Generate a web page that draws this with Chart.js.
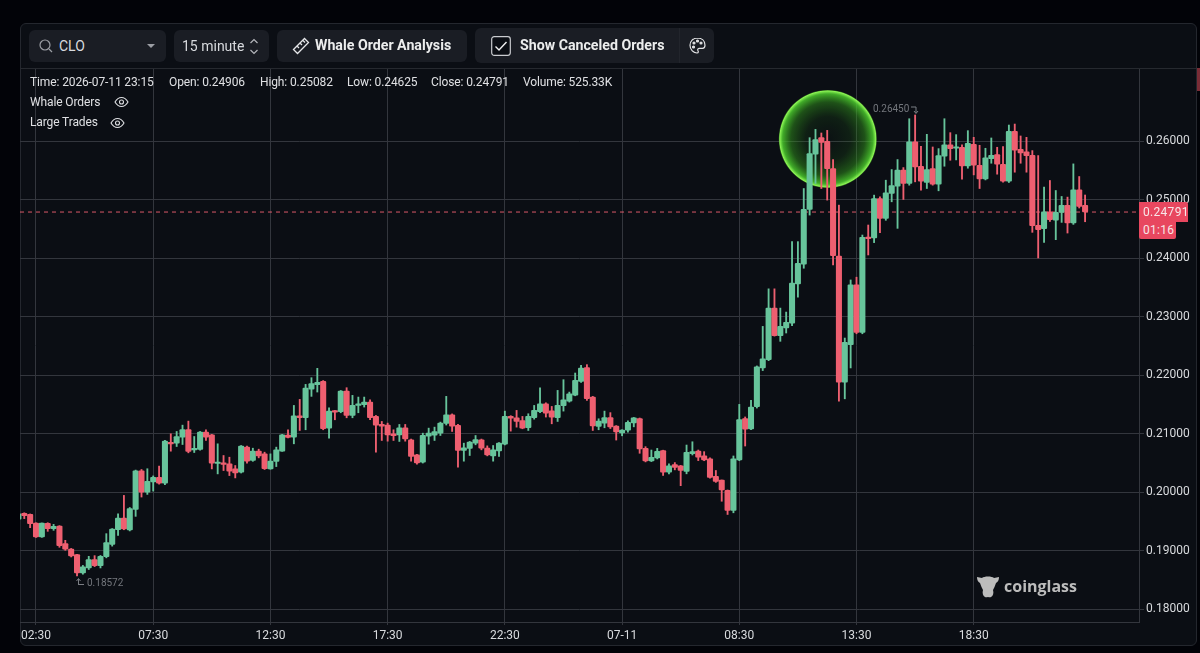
<!DOCTYPE html>
<html>
<head>
<meta charset="utf-8">
<title>CLO 15 minute</title>
<script src="https://cdn.jsdelivr.net/npm/chart.js@4"></script>
<style>
  html, body { margin: 0; padding: 0; width: 1200px; height: 653px; overflow: hidden; background: #020308; font-family: Roboto, sans-serif; }
  .panel { position: absolute; left: 20px; top: 23px; width: 1177px; height: 623px; box-sizing: border-box; background: #0b0e14; border: 1px solid #24272e; border-radius: 6px; }
  .sep { position: absolute; left: 20px; top: 68px; width: 1177px; height: 1px; background: #26292f; }
  canvas { position: absolute; left: 0; top: 0; }
  .box { position: absolute; background: #1a1d24; border-radius: 6px; color: #d8dade; box-sizing: border-box; }
  .txt { position: absolute; white-space: nowrap; }
  .info { position: absolute; white-space: nowrap; font-size: 12px; letter-spacing: -.12px; color: #dfe0e3; line-height: 14px; }
  .strong { font-weight: 700; font-size: 14.2px; color: #eceded; }
  .note { position: absolute; white-space: nowrap; font-size: 10px; color: #73767c; }
  .tag { position: absolute; background: #e8475f; color: #f7e6e8; font-size: 12px; line-height: 18px; letter-spacing: .3px; box-sizing: border-box; padding-left: 4px; }
  svg { position: absolute; }
</style>
</head>
<body>
<div class="panel"></div>
<div class="sep"></div>
<div style="position:absolute;left:1197px;top:68px;width:3px;height:23px;background:#7a2c36"></div>
<canvas id="chart" width="1200" height="653"></canvas>

<div class="box" style="left:29px;top:30px;width:137px;height:32px">
  <svg style="left:9px;top:8px" width="16" height="16" viewBox="0 0 16 16" fill="none" stroke="#9b9ea4" stroke-width="1.2"><circle cx="7" cy="7" r="5"/><path d="M11 11l3 3"/></svg>
  <span class="txt" style="left:30px;top:8px;font-size:14px">CLO</span>
  <svg style="left:118px;top:14px" width="8" height="5" viewBox="0 0 8 5"><path d="M0 0h8L4 4z" fill="#9b9ea4"/></svg>
</div>
<div class="box" style="left:174px;top:30px;width:95px;height:32px">
  <span class="txt" style="left:8px;top:8px;font-size:14px">15 minute</span>
  <svg style="left:75px;top:8px" width="10" height="17" viewBox="0 0 10 17" fill="none" stroke="#b4b6bb" stroke-width="1.2"><path d="M1.5 5L5 1.5 8.5 5M1.5 12L5 15.5 8.5 12"/></svg>
</div>
<div class="box" style="left:277px;top:30px;width:190px;height:32px">
  <svg style="left:15px;top:7px" width="18" height="18" viewBox="0 0 18 18" fill="none" stroke="#e6e7e9" stroke-width="1.3"><path d="M1.5 12.5L12.5 1.5l4 4L5.5 16.5zM5 9l2 2M8 6l2 2M11 3.5l2 2"/></svg>
  <span class="txt strong" style="left:38px;top:7px">Whale Order Analysis</span>
</div>
<div class="box" style="left:475px;top:28px;width:239px;height:35px">
  <svg style="left:16px;top:8px" width="20" height="20" viewBox="0 0 20 20" fill="#0b0e14" stroke="#c9cbcf" stroke-width="1.2"><rect x=".7" y=".7" width="18.6" height="18.6" rx="2.5"/><path d="M4.5 10.5l3.5 3.5 7.5-8" stroke="#f1f1f2" stroke-width="1.4" fill="none"/></svg>
  <span class="txt strong" style="left:45px;top:9px">Show Canceled Orders</span>
  <div style="position:absolute;left:204px;top:0;width:1px;height:35px;background:#22252c"></div>
  <svg style="left:214px;top:9px" width="17" height="17" viewBox="0 0 17 17" fill="none" stroke="#e1e2e4" stroke-width="1.2"><path d="M8.5 1C4 1 1 4.3 1 8.3c0 4 3.2 7.7 7 7.7 1.7 0 1.4-1.700.9-2.500-.5-1 0-2.200 1.600-2.200h3c1.300 0 2.500-.9 2.500-3C16 3.600 12.800 1 8.500 1z"/><circle cx="5" cy="6" r="1" fill="#e1e2e4"/><circle cx="8.500" cy="4" r="1" fill="#e1e2e4"/><circle cx="12" cy="6" r="1" fill="#e1e2e4"/><circle cx="4.500" cy="10" r="1" fill="#e1e2e4"/></svg>
</div>

<span class="info" style="left:30px;top:75px">Time: 2026-07-11 23:15</span>
<span class="info" style="left:169px;top:75px">Open: 0.24906</span>
<span class="info" style="left:260px;top:75px">High: 0.25082</span>
<span class="info" style="left:347px;top:75px">Low: 0.24625</span>
<span class="info" style="left:431px;top:75px">Close: 0.24791</span>
<span class="info" style="left:523px;top:75px">Volume: 525.33K</span>
<span class="info" style="left:30px;top:95px">Whale Orders</span>
<span class="info" style="left:30px;top:115px">Large Trades</span>
<svg style="left:114px;top:96px" width="15" height="12" viewBox="0 0 15 12" fill="none" stroke="#dfe0e3" stroke-width="1.1"><path d="M1 6c2-3.500 4-4.500 6.500-4.500S12 2.500 14 6c-2 3.500-4 4.500-6.500 4.500S3 9.500 1 6z"/><circle cx="7.500" cy="6" r="2"/></svg>
<svg style="left:110px;top:117px" width="15" height="12" viewBox="0 0 15 12" fill="none" stroke="#dfe0e3" stroke-width="1.1"><path d="M1 6c2-3.500 4-4.500 6.500-4.500S12 2.500 14 6c-2 3.500-4 4.500-6.500 4.500S3 9.500 1 6z"/><circle cx="7.500" cy="6" r="2"/></svg>

<span class="note" style="left:873px;top:103px">0.26450</span>
<svg style="left:911px;top:106px" width="8" height="9" viewBox="0 0 8 9" fill="none" stroke="#7b7e84" stroke-width="1"><path d="M0 1h5v6M3 5l2 2.500L7 5"/></svg>
<span class="note" style="left:87px;top:577px">0.18572</span>
<svg style="left:76px;top:577px" width="8" height="9" viewBox="0 0 8 9" fill="none" stroke="#7b7e84" stroke-width="1"><path d="M2.500 8V2M.5 4l2-2.500 2 2.500M2.500 7.500H8"/></svg>

<svg style="left:976px;top:573px" width="24" height="26" viewBox="0 0 24 26" fill="#bcbcbc"><path d="M1 4l5 1c2-2 10-2 12 0l5-1c0 3-1 5-3 6-1 3-2 5-3 7 1 3 0 6-2 7-1 .6-2 0-3 0s-2 .8-3 0c-2-1-3-4-2-7-1-2-2-4-3-7-2-1-3-3-3-6z"/></svg>
<span class="txt" style="left:1004px;top:575px;font-family:'Open Sans',sans-serif;font-weight:700;font-size:16px;color:#bcbcbc">coinglass</span>

<div class="tag" style="left:1139px;top:202px;width:49px;height:20px;border-radius:0 2px 0 0;line-height:20px">0.24791</div>
<div class="tag" style="left:1139px;top:222px;width:37px;height:17px;line-height:17px;border-radius:0 0 2px 2px">01:16</div>

<script>
// x position of candle i is i + firstIndex, 0 is the 02:30 tick, one step is 15 minutes
const firstIndex = -3;

const opens = [
  .1954,.1964,.19623,.19475,.19236,.1947,.1938,.19424,.19122,.1903,
  .18935,.18622,.18707,.18849,.18747,.1890,.19111,.19361,.1956,.19356,
  .19708,.20368,.20004,.20176,.20255,.20158,.20846,.2084,.20943,.21074,
  .20726,.20732,.21029,.20983,.20492,.20503,.20486,.204,.20343,.20772,
  .20543,.20703,.20657,.204,.20526,.20703,.2098,.20943,.21308,.21274,
  .21765,.21839,.21896,.21097,.21388,.21377,.2173,.21314,.21485,.21497,
  .21542,.21297,.2116,.21148,.2100,.20983,.21103,.20897,.2064,.20515,
  .2096,.20977,.21011,.21177,.21325,.21143,.20714,.20749,.2084,.20897,
  .20754,.20623,.20709,.20823,.21297,.21274,.21228,.21103,.21274,.21377,
  .21514,.21394,.21274,.2148,.2156,.21662,.21897,.22131,.21628,.21126,
  .21183,.21277,.2113,.21017,.21062,.21186,.2126,.20751,.20537,.20588,
  .20712,.20345,.20475,.20452,.20356,.20661,.20706,.20622,.20571,.20271,
  .20209,.20034,.19689,.20554,.2126,.21085,.21462,.22126,.22268,.23149,
  .22677,.22808,.22893,.23563,.23898,.24836,.25778,.26062,.26,.25534,
  .2404,.21882,.22524,.23546,.22734,.24364,.24347,.25023,.24682,.25109,
  .25233,.25506,.25279,.25989,.25574,.25296,.25534,.25267,.25744,.25938,
  .25881,.25898,.2558,.25949,.25591,.25358,.25705,.25773,.25608,.25318,
  .2617,.25864,.25818,.25761,.24563,.24506,.24796,.24654,.24784,.24904,
  .24603,.25171,.24906
];

const highs = [
  .1963,.1965,.1963,.1948,.19475,.1948,.19452,.1943,.19179,.1904,
  .1894,.1875,.18906,.18917,.1892,.19293,.1938,.19634,.19947,.1974,
  .2038,.2039,.20403,.2028,.20448,.2089,.2100,.2104,.21148,.21217,
  .20954,.2104,.21069,.2099,.20829,.20629,.206,.20458,.208,.2079,
  .20754,.20737,.20686,.20657,.20772,.2099,.21069,.21485,.21588,.21845,
  .21959,.22119,.2191,.21445,.2140,.2174,.21788,.21657,.21628,.21628,
  .21582,.21314,.21211,.21183,.21069,.2116,.2116,.2091,.2065,.21011,
  .21097,.21114,.2120,.2164,.2134,.2116,.2084,.2087,.20971,.2091,
  .20794,.208,.2085,.21388,.2131,.214,.21297,.21343,.21485,.21788,
  .2153,.21468,.21742,.21925,.21713,.22039,.2217,.22182,.2164,.21257,
  .21388,.21362,.2114,.2107,.2122,.2128,.2127,.2078,.20723,.20751,
  .2072,.20486,.20508,.2046,.20808,.20864,.20723,.20695,.2059,.20373,
  .2021,.2004,.20621,.21503,.21288,.21571,.2216,.22836,.23478,.23478,
  .23149,.23081,.24285,.24285,.25193,.26062,.26204,.26142,.26187,.25688,
  .24909,.22637,.2363,.23677,.24398,.24569,.2508,.2505,.25335,.25517,
  .25688,.25551,.26386,.2645,.25915,.26119,.25903,.25875,.26386,.26148,
  .26114,.2594,.26182,.26068,.25932,.25881,.26057,.25898,.25909,.26278,
  .26295,.26091,.26068,.25841,.25756,.25216,.2533,.25159,.25057,.25046,
  .25614,.25398,.25082
];

const lows = [
  .1953,.1955,.19395,.1923,.1923,.19333,.1935,.1906,.19009,.18895,
  .18572,.186,.1868,.1873,.18707,.1888,.1908,.19265,.1936,.1934,
  .19589,.19919,.19964,.20021,.2014,.2013,.20703,.20783,.20817,.20675,
  .2068,.2072,.20886,.204,.20315,.20372,.20286,.20246,.2033,.20498,
  .2053,.20589,.2039,.20395,.2044,.207,.2093,.20829,.21057,.21069,
  .2164,.21714,.21069,.20926,.2124,.2136,.21274,.21274,.2136,.21457,
  .2124,.20686,.20886,.20874,.20886,.20869,.20874,.20532,.2048,.2050,
  .20823,.20886,.20971,.2115,.2104,.20429,.20532,.20629,.20812,.20726,
  .20623,.20532,.20612,.2081,.21046,.21114,.21086,.21057,.2125,.2136,
  .21286,.21171,.21211,.21388,.21542,.2165,.2188,.21571,.21057,.21069,
  .21103,.2109,.20893,.20966,.2103,.21119,.20667,.2052,.20525,.2057,
  .20288,.20316,.20384,.20113,.20316,.20638,.20542,.2054,.2024,.2017,
  .19847,.19621,.1965,.2054,.20791,.2107,.2144,.22081,.2225,.2267,
  .22581,.22723,.2285,.23336,.2383,.24739,.25279,.25193,.24995,.23887,
  .21558,.21598,.22126,.2271,.2271,.24057,.24268,.24438,.2465,.24966,
  .24512,.25006,.2525,.25307,.25165,.25193,.2525,.25154,.25574,.25676,
  .25682,.25352,.2554,.25426,.25193,.2534,.25625,.25438,.2530,.25296,
  .25472,.25625,.25472,.24444,.24006,.24273,.2463,.24319,.24614,.24432,
  .2458,.2486,.24625
];

const closes = [
  .1963,.1960,.19464,.19236,.19475,.19378,.1942,.19088,.19026,.18912,
  .18622,.18724,.18849,.18747,.18906,.19139,.19373,.1956,.19373,.1972,
  .20368,.20004,.20186,.20255,.20158,.20875,.20829,.20954,.21074,.20697,
  .20749,.21029,.20943,.20498,.20503,.20475,.2036,.20332,.20789,.20532,
  .20703,.20623,.20406,.20532,.20726,.20983,.2094,.21308,.21274,.21782,
  .21857,.21879,.21086,.21388,.21371,.2173,.21314,.21485,.21514,.21542,
  .21274,.21148,.21131,.20983,.20966,.21103,.20914,.20612,.20503,.20972,
  .21011,.2104,.21183,.21325,.21131,.20714,.2076,.20857,.20903,.20754,
  .2064,.20726,.2084,.21297,.21268,.21211,.21097,.21297,.214,.21514,
  .21354,.21286,.21485,.21582,.21685,.21914,.22125,.216,.21136,.21217,
  .21277,.21119,.21034,.21062,.21198,.21271,.2074,.20537,.20599,.207,
  .20345,.20452,.20424,.20373,.20684,.20695,.20599,.20554,.20254,.20186,
  .20039,.19689,.20571,.21243,.21079,.21458,.22143,.2228,.23149,.22677,
  .22836,.22904,.23575,.23915,.24836,.2579,.26028,.25983,.25534,.24046,
  .21882,.22564,.23546,.22734,.24358,.24336,.25023,.24682,.2512,.25245,
  .25506,.25279,.25989,.25563,.25318,.25517,.25267,.25756,.25938,.25875,
  .25898,.2558,.25966,.25591,.25358,.25716,.25761,.25608,.25318,.2617,
  .25847,.25801,.25756,.24557,.24489,.24796,.2466,.24784,.24904,.24603,
  .25171,.24887,.24791
];

const priceTicks = [0.18, 0.19, 0.20, 0.21, 0.22, 0.23, 0.24, 0.25, 0.26];
const timeTicks = [0, 20, 40, 60, 80, 100, 120, 140, 160];
const timeLabels = ['02:30', '07:30', '12:30', '17:30', '22:30', '07-11', '08:30', '13:30', '18:30'];
const lastPrice = 0.24791;

const up = '#67c49b';
const down = '#ee5f70';
const xMin = -2.73;
const xMax = 188.2;

const colors = closes.map((c, i) => c >= opens[i] ? up : down);
const wicks = highs.map((h, i) => ({ x: i + firstIndex, y: [lows[i], h] }));
const bodies = opens.map((o, i) => ({ x: i + firstIndex, y: [o, closes[i]] }));

// green ring around the top of the spike
const ringPlugin = {
  id: 'ring',
  beforeDatasetsDraw(chart) {
    const c = chart.ctx;
    const x = chart.scales.x.getPixelForValue(135.1);
    const y = chart.scales.y.getPixelForValue(0.2604);
    const r = 49;
    const g = c.createRadialGradient(x, y, 0, x, y, r);
    g.addColorStop(0, 'rgba(40,130,20,0.03)');
    g.addColorStop(0.45, 'rgba(45,140,25,0.14)');
    g.addColorStop(0.75, 'rgba(55,165,30,0.45)');
    g.addColorStop(0.92, 'rgba(75,200,45,0.85)');
    g.addColorStop(0.98, 'rgba(140,245,85,1)');
    g.addColorStop(1, 'rgba(110,220,60,0.5)');
    c.save();
    c.fillStyle = g;
    c.beginPath();
    c.arc(x, y, r, 0, Math.PI * 2);
    c.fill();
    c.restore();
  }
};

new Chart(document.getElementById('chart'), {
  data: {
    datasets: [
      {
        type: 'line',
        data: [{ x: xMin, y: lastPrice }, { x: xMax, y: lastPrice }],
        borderColor: 'rgba(238,95,112,0.9)',
        borderWidth: 1,
        borderDash: [4, 4],
        pointRadius: 0,
        order: 3
      },
      {
        type: 'bar',
        data: wicks,
        backgroundColor: colors,
        barThickness: 1.2,
        grouped: false,
        order: 2
      },
      {
        type: 'bar',
        data: bodies,
        backgroundColor: colors,
        barThickness: 5.4,
        minBarLength: 1.5,
        borderRadius: 1,
        borderSkipped: false,
        grouped: false,
        order: 1
      }
    ]
  },
  plugins: [ringPlugin],
  options: {
    responsive: false,
    animation: false,
    events: [],
    layout: { padding: { left: 20, top: 69, right: 0, bottom: 0 } },
    plugins: {
      legend: { display: false },
      tooltip: { enabled: false }
    },
    scales: {
      x: {
        type: 'linear',
        min: xMin,
        max: xMax,
        offset: false,
        afterBuildTicks: s => { s.ticks = timeTicks.map(v => ({ value: v })); },
        afterFit: s => { s.height = 31; },
        grid: { color: '#33363d', tickLength: 3, offset: false },
        border: { color: '#33363d' },
        ticks: {
          color: '#d9dbde',
          font: { family: 'Roboto', size: 12 },
          padding: 4,
          autoSkip: false,
          maxRotation: 0,
          callback: v => timeLabels[timeTicks.indexOf(v)]
        }
      },
      y: {
        position: 'right',
        min: 0.17783,
        max: 0.27236,
        afterBuildTicks: s => { s.ticks = priceTicks.map(v => ({ value: v })); },
        afterFit: s => { s.width = 61; },
        grid: { color: '#33363d', tickLength: 5 },
        border: { color: '#33363d' },
        ticks: {
          color: '#d9dbde',
          font: { family: 'Roboto', size: 12 },
          padding: 2,
          callback: v => v.toFixed(5)
        }
      }
    }
  }
});
</script>
</body>
</html>
